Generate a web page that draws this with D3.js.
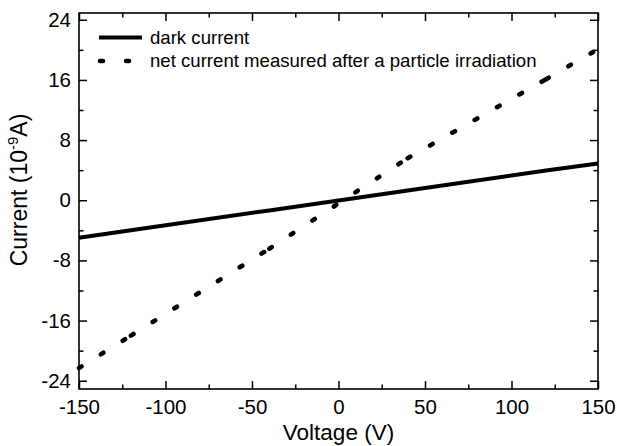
<!DOCTYPE html>
<html>
<head>
<meta charset="utf-8">
<script src="https://cdn.jsdelivr.net/npm/d3@7"></script>
<style>
  body { margin: 0; background: #ffffff; }
  svg text { font-family: "Liberation Sans", Arial, sans-serif; fill: #000; }
</style>
</head>
<body>
<div id="chart"></div>
<script>
// values
var voltage = [-150, -120, -40, 40, 120, 150];
var darkCurrent = [-5.0, -4.0, -1.35, 1.3, 3.95, 4.9];
var netCurrent = [-22.3, -18.0, -6.45, 5.6, 16.1, 20.1];

var xTicks = [-150, -100, -50, 0, 50, 100, 150];
var xMinor = [-125, -75, -25, 25, 75, 125];
var yTicks = [-24, -16, -8, 0, 8, 16, 24];
var yMinor = [-20, -12, -4, 4, 12, 20];

var seriesNames = ['dark current', 'net current measured after a particle irradiation'];

var ivChart = {

    config: {
        w: 617,
        h: 446,
        left: 79,
        right: 598,
        top: 13,
        bottom: 389,
        major: 8,
        minor: 4.5,
        lw: 4,
        dotw: 4.6,
        dash: '3,22.7',
    },

    run: function() {
        var c = ivChart.config;

        var svg = d3.select('#chart').append('svg')
            .attr('width', c.w)
            .attr('height', c.h);

        var x = d3.scaleLinear().domain([-150, 150]).range([c.left, c.right]);
        var y = d3.scaleLinear().domain([-25.1, 24.9]).range([c.bottom, c.top]);

        // plain hyphen minus like the original, not the unicode one
        var fmt = function(d) { return String(d); };

        // ticks point inward on all four sides
        var axes = [
            { ax: d3.axisBottom(x), t: 'translate(0,' + c.bottom + ')', lab: true, tv: xTicks, mv: xMinor },
            { ax: d3.axisTop(x), t: 'translate(0,' + c.top + ')', lab: false, tv: xTicks, mv: xMinor },
            { ax: d3.axisLeft(y), t: 'translate(' + c.left + ',0)', lab: true, tv: yTicks, mv: yMinor },
            { ax: d3.axisRight(y), t: 'translate(' + c.right + ',0)', lab: false, tv: yTicks, mv: yMinor },
        ];
        axes.forEach(function(a, i) {
            var g = svg.append('g').attr('transform', a.t);
            a.ax.tickValues(a.tv).tickSize(-c.major).tickSizeOuter(0)
                .tickPadding(i === 0 ? 10 : 8)
                .tickFormat(a.lab ? fmt : '');
            g.call(a.ax);
            g.selectAll('.tick line').attr('stroke-width', 1.5);
            g.selectAll('text').attr('font-size', 20.5).attr('fill', '#000');
            g.select('.domain').remove();

            // minor ticks
            var m = svg.append('g').attr('transform', a.t);
            var mAx = (i === 0 ? d3.axisBottom(x) : i === 1 ? d3.axisTop(x) :
                       i === 2 ? d3.axisLeft(y) : d3.axisRight(y));
            m.call(mAx.tickValues(a.mv).tickSize(-c.minor).tickSizeOuter(0).tickFormat(''));
            m.selectAll('.tick line').attr('stroke-width', 1.5);
            m.select('.domain').remove();
        });

        // frame
        svg.append('rect')
            .attr('x', c.left)
            .attr('y', c.top)
            .attr('width', c.right - c.left)
            .attr('height', c.bottom - c.top)
            .attr('fill', 'none')
            .attr('stroke', '#000')
            .attr('stroke-width', 1.6);

        var pts = function(vals) {
            return voltage.map(function(v, i) { return [v, vals[i]]; });
        };
        var line = d3.line()
            .x(function(d) { return x(d[0]); })
            .y(function(d) { return y(d[1]); });

        // dark current, solid
        svg.append('path')
            .datum(pts(darkCurrent))
            .attr('d', line)
            .attr('fill', 'none')
            .attr('stroke', '#000')
            .attr('stroke-width', c.lw)
            .attr('stroke-linejoin', 'round');

        // net current, dotted; each segment restarts its dash pattern
        var net = pts(netCurrent);
        d3.pairs(net).forEach(function(seg) {
            svg.append('path')
                .datum(seg)
                .attr('d', line)
                .attr('fill', 'none')
                .attr('stroke', '#000')
                .attr('stroke-width', c.dotw)
                .attr('stroke-dasharray', c.dash)
                .attr('stroke-linecap', 'round');
        });

        // legend
        var lg = svg.append('g');
        lg.append('line')
            .attr('x1', 99).attr('x2', 142)
            .attr('y1', 37.5).attr('y2', 37.5)
            .attr('stroke', '#000')
            .attr('stroke-width', c.lw);
        lg.append('line')
            .attr('x1', 100).attr('x2', 142)
            .attr('y1', 61).attr('y2', 61)
            .attr('stroke', '#000')
            .attr('stroke-width', c.dotw)
            .attr('stroke-dasharray', '3,23')
            .attr('stroke-linecap', 'round');
        lg.selectAll('text').data(seriesNames).enter().append('text')
            .attr('x', 150)
            .attr('y', function(d, i) { return 44 + i * 23; })
            .attr('font-size', 18.6)
            .text(function(d) { return d; });

        // axis titles
        svg.append('text')
            .attr('x', (c.left + c.right) / 2)
            .attr('y', 440)
            .attr('text-anchor', 'middle')
            .attr('font-size', 22.5)
            .text('Voltage (V)');

        var yt = svg.append('text')
            .attr('transform', 'translate(27,' + 190 + ') rotate(-90)')
            .attr('text-anchor', 'middle')
            .attr('font-size', 23);
        yt.append('tspan').text('Current (10');
        yt.append('tspan').attr('font-size', 15).attr('dy', -9).text('-9');
        yt.append('tspan').attr('dy', 9).text('A)');
    },
};

ivChart.run();
</script>
</body>
</html>
